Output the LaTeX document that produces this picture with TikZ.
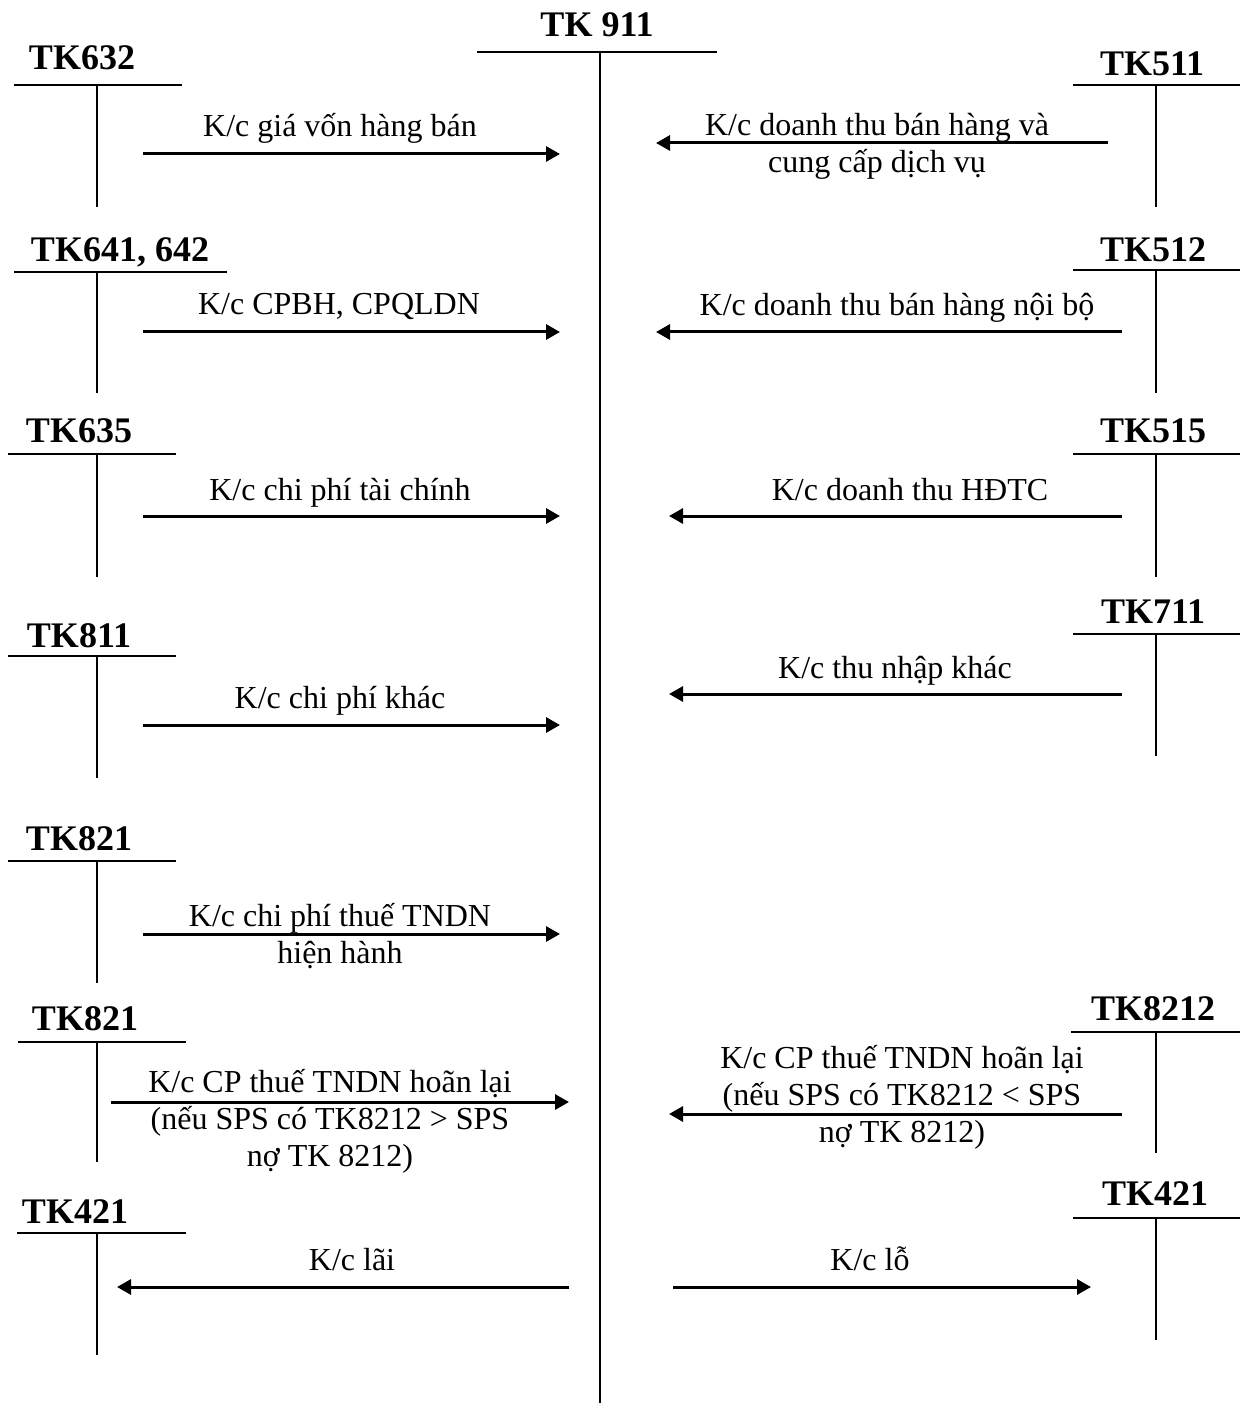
\documentclass[tikz,border=0pt]{standalone}
\usepackage{fontspec}
\setmainfont{Liberation Serif}
\usetikzlibrary{arrows.meta}
\begin{document}
\begin{tikzpicture}[x=0.5pt,y=-0.5pt,
  acc/.style={font=\fontsize{18}{21}\selectfont\bfseries, anchor=base, inner sep=0pt},
  lbl/.style={font=\fontsize{16}{18.5}\selectfont, anchor=base, inner sep=0pt, align=center},
  tline/.style={line width=1pt},
  stem/.style={line width=0.8pt},
  axis/.style={line width=1.2pt},
  flow/.style={line width=1.5pt, -{Triangle[length=7pt,width=7.5pt]}},
]
\useasboundingbox (0,0) rectangle (1240,1411);

% central account TK 911
\node[acc] (t911) at (597,37) {TK 911};
\coordinate (c911l) at (477,52);
\coordinate (c911r) at (717,52);
\coordinate (c911t) at (600,52);
\coordinate (c911b) at (600,1403);
\draw[tline] (c911l) -- (c911r);
\draw[axis] (c911t) -- (c911b);

% left accounts: name, text x, baseline, line x1, x2, line y, stem bottom
\foreach \n/\tx/\tb/\la/\lb/\ly/\sb/\txt in {
  a632/82/70/14/182/85/207/{TK632},
  a641/120/262/14/227/272/393/{TK641, 642},
  a635/79/443/8/176/454/577/{TK635},
  a811/79/647/8/176/656/778/{TK811},
  a821/79/850/8/176/861/983/{TK821},
  b821/85/1030/18/186/1042/1162/{TK821},
  a421/75/1223/17/186/1233/1355/{TK421}}{
  \node[acc] (\n) at (\tx,\tb) {\txt};
  \coordinate (\n l) at (\la,\ly);
  \coordinate (\n r) at (\lb,\ly);
  \coordinate (\n t) at (97,\ly);
  \coordinate (\n b) at (97,\sb);
  \draw[tline] (\n l) -- (\n r);
  \draw[stem] (\n t) -- (\n b);
}

% right accounts
\foreach \n/\tx/\tb/\la/\ly/\sb/\txt in {
  a511/1152/76/1073/85/207/{TK511},
  a512/1153/262/1073/270/393/{TK512},
  a515/1153/443/1073/454/577/{TK515},
  a711/1153/623/1073/634/756/{TK711},
  a8212/1153/1020/1071/1032/1153/{TK8212},
  c421/1155/1205/1073/1218/1340/{TK421}}{
  \node[acc] (\n) at (\tx,\tb) {\txt};
  \coordinate (\n l) at (\la,\ly);
  \coordinate (\n r) at (1240,\ly);
  \coordinate (\n t) at (1156,\ly);
  \coordinate (\n b) at (1156,\sb);
  \draw[tline] (\n l) -- (\n r);
  \draw[stem] (\n t) -- (\n b);
}

% left flows into TK 911
\coordinate (f1s) at (143,154);  \coordinate (f1e) at (560,154);
\coordinate (f2s) at (143,332);  \coordinate (f2e) at (560,332);
\coordinate (f3s) at (143,516);  \coordinate (f3e) at (560,516);
\coordinate (f4s) at (143,725);  \coordinate (f4e) at (560,725);
\coordinate (f5s) at (143,934);  \coordinate (f5e) at (560,934);
\coordinate (f6s) at (111,1102); \coordinate (f6e) at (569,1102);
\coordinate (f7s) at (569,1287); \coordinate (f7e) at (117,1287);
\foreach \i in {1,...,7} {\draw[flow] (f\i s) -- (f\i e);}

% (multi-line labels: base anchor is the baseline of the last line)
\node[lbl] (l1) at (340,137) {K/c giá vốn hàng bán};
\node[lbl] (l2) at (339,315) {K/c CPBH, CPQLDN};
\node[lbl] (l3) at (340,500) {K/c chi phí tài chính};
\node[lbl] (l4) at (340,708) {K/c chi phí khác};
\node[lbl] (l5) at (340,963) {K/c chi phí thuế TNDN\\hiện hành};
\node[lbl] (l6) at (330,1166) {K/c CP thuế TNDN hoãn lại\\(nếu SPS có TK8212 > SPS\\nợ TK 8212)};
\node[lbl] (l7) at (352,1270) {K/c lãi};

% right flows
\coordinate (g1s) at (1108,143); \coordinate (g1e) at (656,143);
\coordinate (g2s) at (1122,332); \coordinate (g2e) at (656,332);
\coordinate (g3s) at (1122,516); \coordinate (g3e) at (669,516);
\coordinate (g4s) at (1122,694); \coordinate (g4e) at (669,694);
\coordinate (g5s) at (1122,1114); \coordinate (g5e) at (669,1114);
\coordinate (g6s) at (673,1287); \coordinate (g6e) at (1091,1287);
\foreach \i in {1,...,6} {\draw[flow] (g\i s) -- (g\i e);}

\node[lbl] (r1) at (877,173) {K/c doanh thu bán hàng và\\cung cấp dịch vụ};
\node[lbl] (r2) at (897,316) {K/c doanh thu bán hàng nội bộ};
\node[lbl] (r3) at (910,500) {K/c doanh thu HĐTC};
\node[lbl] (r4) at (895,678) {K/c thu nhập khác};
\node[lbl] (r5) at (902,1142) {K/c CP thuế TNDN hoãn lại\\(nếu SPS có TK8212 < SPS\\nợ TK 8212)};
\node[lbl] (r6) at (870,1270) {K/c lỗ};
\end{tikzpicture}
\end{document}
